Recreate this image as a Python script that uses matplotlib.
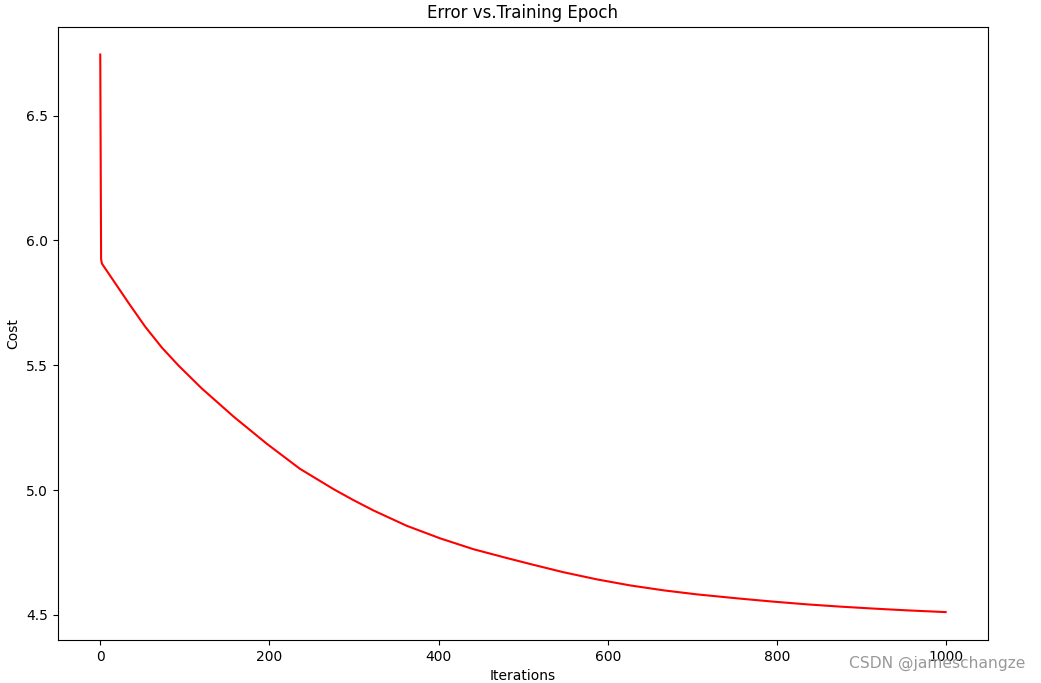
import matplotlib.pyplot as plt

# values
iters = [0, 1, 2, 18, 34, 53, 73, 93, 120, 158, 197, 236, 276, 299, 323,
         362, 402, 441, 480, 510, 547, 587, 626, 666, 705, 756, 795, 835,
         874, 914, 953, 999]
cost = [6.745, 5.925, 5.907, 5.827, 5.747, 5.655, 5.570, 5.497, 5.407,
        5.293, 5.185, 5.085, 5.003, 4.960, 4.918, 4.857, 4.806, 4.763,
        4.728, 4.702, 4.671, 4.642, 4.618, 4.598, 4.582, 4.565, 4.553,
        4.542, 4.533, 4.525, 4.518, 4.511]

fig, ax = plt.subplots(figsize=(10.41, 6.83), dpi=100)
fig.subplots_adjust(left=0.0557, right=0.949, top=0.961, bottom=0.063)

ax.plot(iters, cost, 'r')
ax.set_xlabel('Iterations')
ax.set_ylabel('Cost')
ax.set_title('Error vs.Training Epoch')

# watermark
fig.text(0.985, 0.028, 'CSDN @jameschangze', ha='right', va='center',
         fontsize=11.2, color='#999999')

plt.savefig("out.png")
